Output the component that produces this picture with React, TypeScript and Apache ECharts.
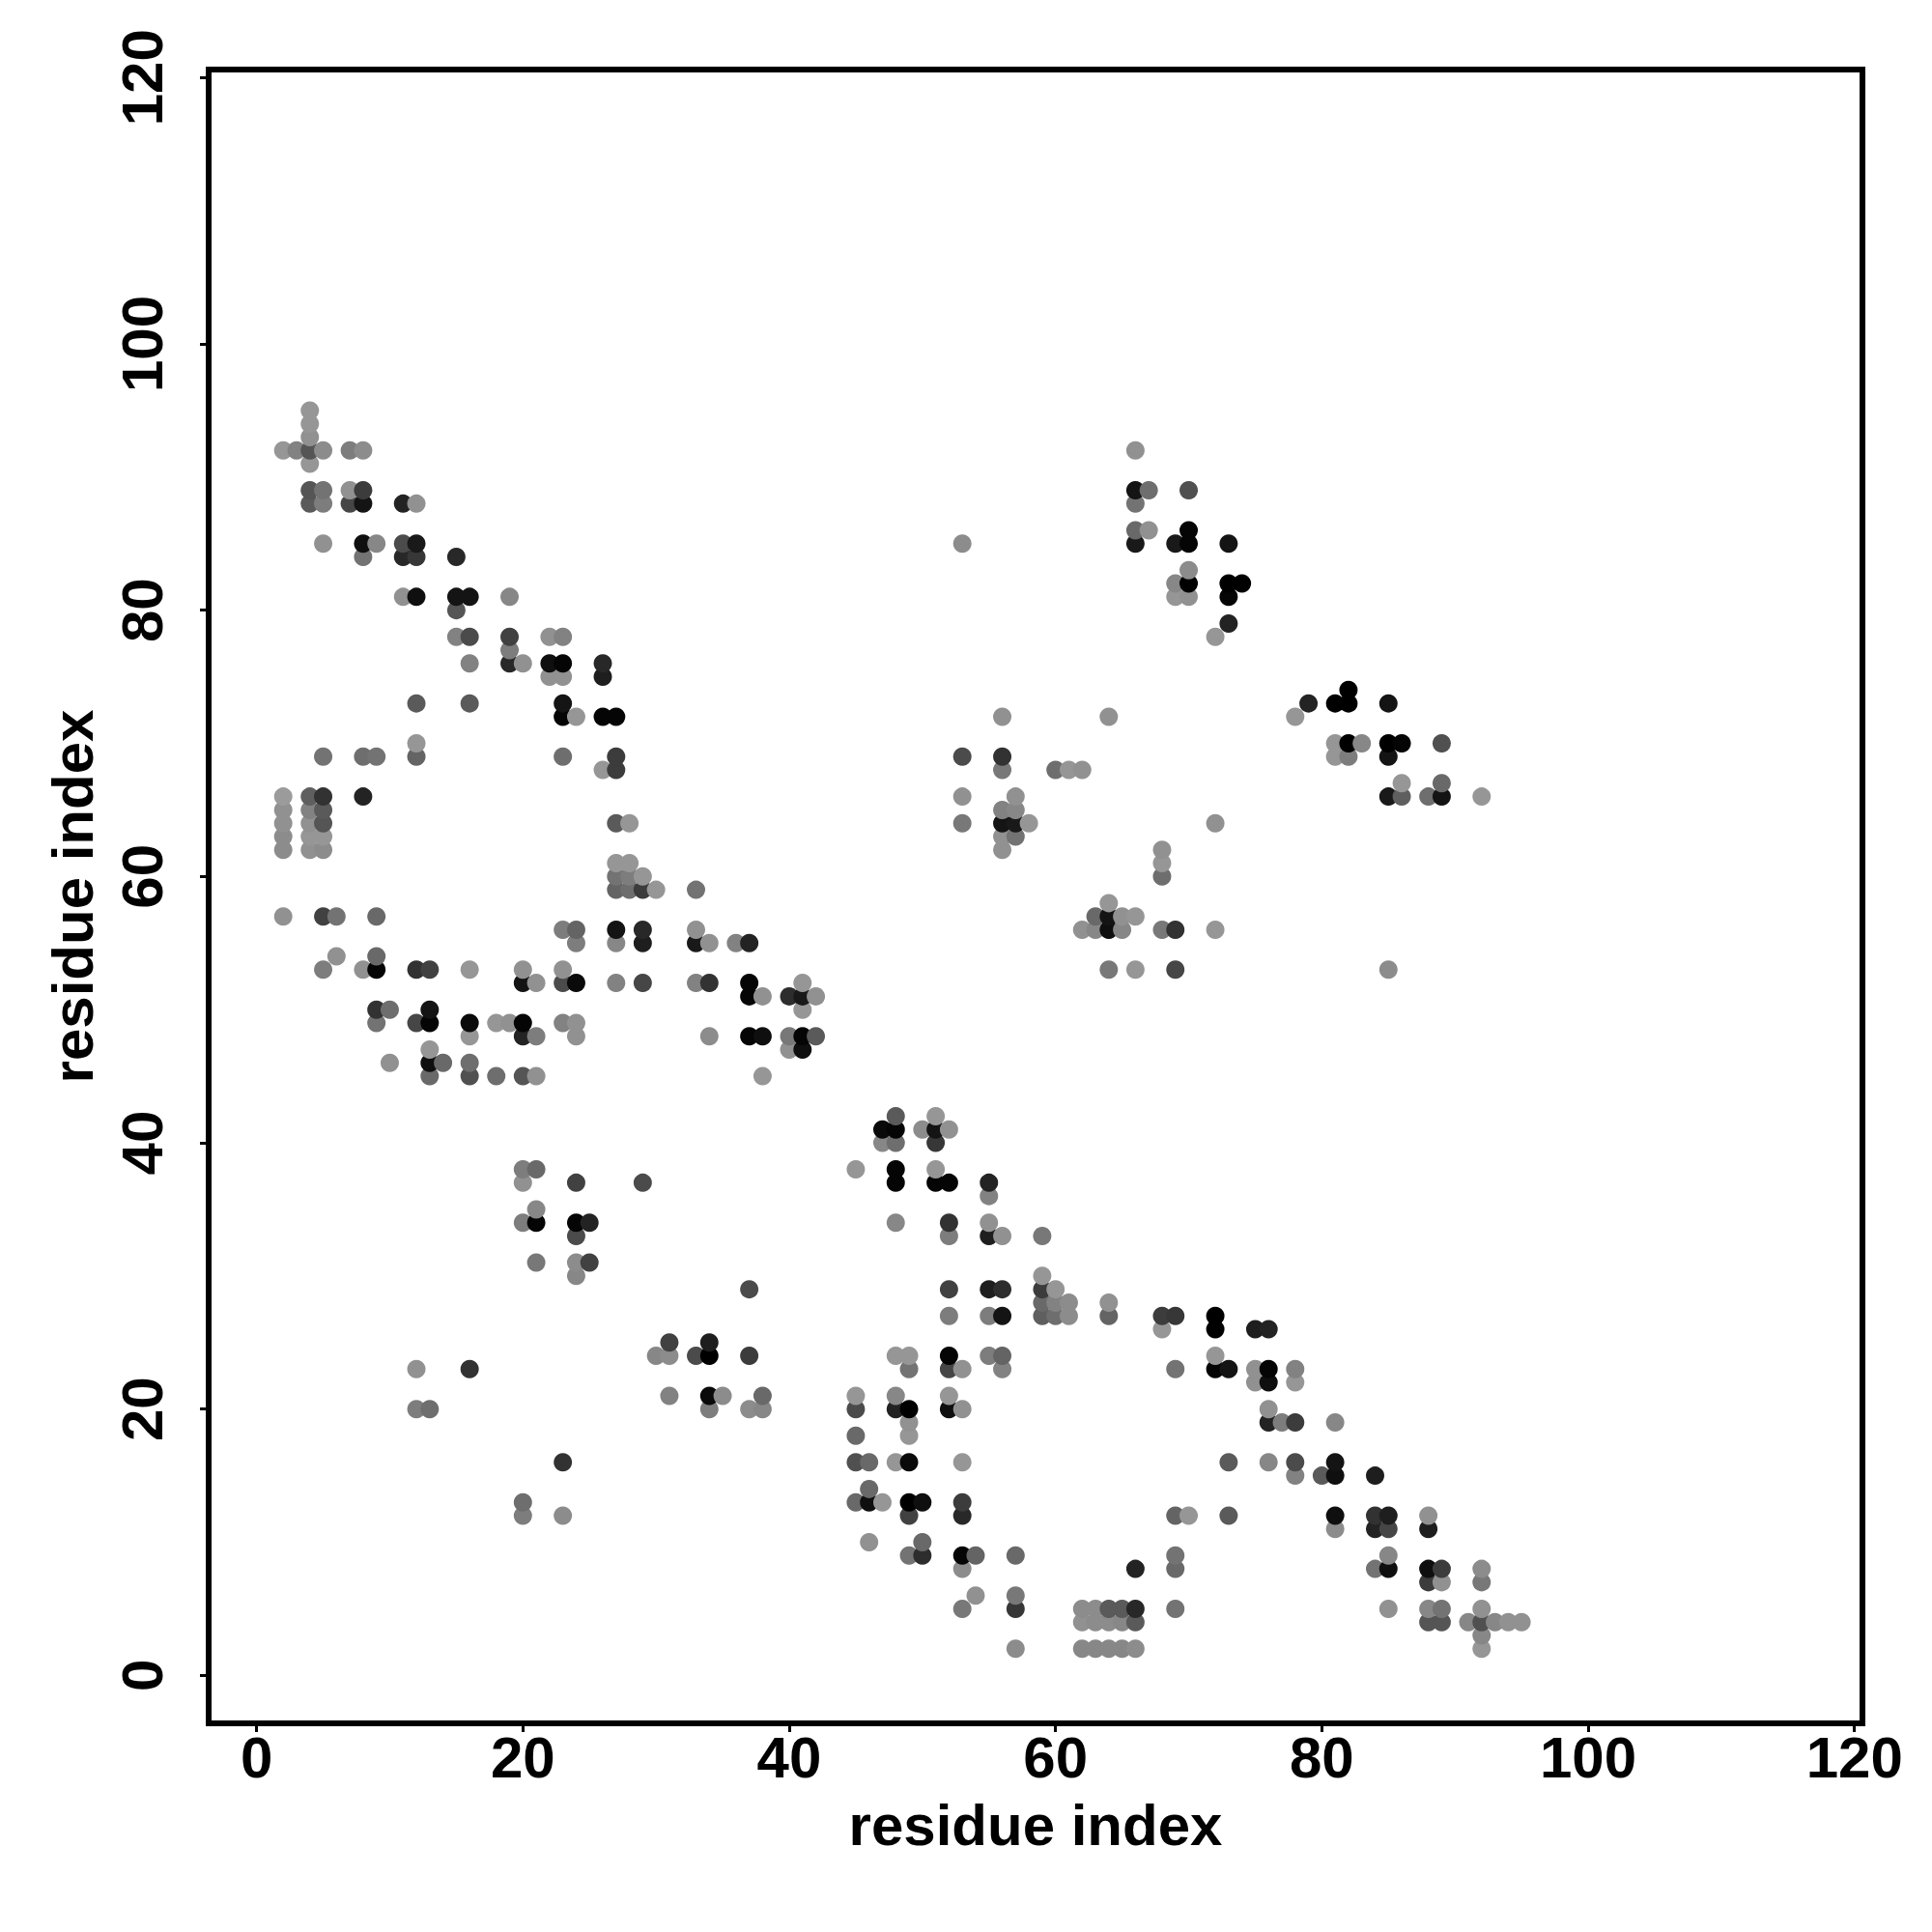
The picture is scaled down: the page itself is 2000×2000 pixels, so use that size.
import React, { useEffect, useRef } from "react";
import * as echarts from "echarts";

// Each contact: [residue x, residue y, grey level 0-255]
const rows95to70 = [
  [4,95,150],[4,94,150],[4,93,145],
  [2,92,150],[3,92,130],[4,92,85],[5,92,140],[7,92,125],[8,92,140],[66,92,145],
  [4,91,150],
  [4,89,85],[5,89,115],[7,89,145],[8,89,60],[66,89,20],[67,89,110],[70,89,80],
  [4,88,90],[5,88,125],[7,88,70],[8,88,20],[11,88,35],[12,88,145],[66,88,115],
  [66,86,105],[67,86,145],[70,86,5],
  [5,85,145],[8,85,15],[9,85,135],[11,85,75],[12,85,25],[53,85,140],[66,85,25],[69,85,25],[70,85,5],[73,85,20],
  [8,84,115],[11,84,40],[12,84,55],[15,84,40],
  [70,83,140],
  [69,82,135],[70,82,0],[73,82,0],[74,82,0],
  [11,81,145],[12,81,15],[15,81,20],[16,81,20],[19,81,135],[69,81,150],[70,81,145],[73,81,5],
  [15,80,85],
  [73,79,35],
  [15,78,130],[16,78,75],[19,78,65],[22,78,145],[23,78,130],[72,78,150],
  [19,77,125],
  [16,76,130],[19,76,40],[20,76,145],[22,76,15],[23,76,5],[26,76,40],
  [22,75,145],[23,75,145],[26,75,30],
  [82,74,0],
  [12,73,90],[16,73,90],[23,73,20],[79,73,35],[81,73,0],[82,73,0],[85,73,20],
  [23,72,5],[24,72,150],[26,72,5],[27,72,5],[56,72,145],[64,72,145],[78,72,150],
  [12,70,150],[81,70,150],[82,70,0],[83,70,135],[85,70,0],[86,70,5],[89,70,80],
];

const rows69to45 = [
  [5,69,115],[8,69,110],[9,69,115],[12,69,100],[23,69,110],[27,69,60],[53,69,75],[56,69,50],[81,69,150],[82,69,125],[85,69,20],
  [26,68,150],[27,68,60],[56,68,120],[60,68,110],[61,68,150],[62,68,145],
  [86,67,150],[89,67,105],
  [2,66,155],[4,66,95],[5,66,50],[8,66,35],[53,66,145],[57,66,145],[85,66,25],[86,66,95],[88,66,110],[89,66,20],[92,66,150],
  [2,65,145],[4,65,130],[5,65,90],[56,65,130],[57,65,135],
  [2,64,145],[4,64,145],[5,64,85],[27,64,90],[28,64,150],[53,64,120],[56,64,20],[57,64,25],[58,64,150],[72,64,145],
  [2,63,140],[4,63,150],[5,63,150],[56,63,145],[57,63,115],
  [2,62,140],[4,62,145],[5,62,140],[56,62,145],[68,62,145],
  [27,61,150],[28,61,150],[68,61,150],
  [27,60,115],[28,60,125],[29,60,150],[68,60,110],
  [27,59,100],[28,59,110],[29,59,60],[30,59,150],[33,59,115],
  [64,58,150],
  [2,57,145],[5,57,65],[6,57,115],[9,57,105],[63,57,105],[64,57,20],[65,57,145],[66,57,150],
  [23,56,125],[24,56,100],[27,56,20],[29,56,40],[33,56,145],[62,56,145],[63,56,135],[64,56,15],[65,56,135],[68,56,120],[69,56,50],[72,56,150],
  [24,55,125],[27,55,135],[29,55,30],[33,55,25],[34,55,145],[36,55,130],[37,55,35],
  [6,54,145],[9,54,105],
  [5,53,125],[8,53,145],[9,53,5],[12,53,50],[13,53,65],[16,53,150],[20,53,145],[23,53,145],[64,53,120],[66,53,150],[69,53,70],[85,53,140],
  [20,52,20],[21,52,145],[23,52,75],[24,52,10],[27,52,130],[29,52,70],[33,52,130],[34,52,50],[37,52,5],[41,52,150],
  [37,51,5],[38,51,145],[40,51,45],[41,51,25],[42,51,145],
  [9,50,50],[10,50,110],[13,50,20],[41,50,150],
  [9,49,115],[12,49,70],[13,49,5],[16,49,10],[18,49,150],[19,49,145],[20,49,5],[23,49,130],[24,49,145],
  [16,48,150],[20,48,35],[21,48,125],[24,48,145],[34,48,140],[37,48,5],[38,48,15],[40,48,120],[41,48,5],[42,48,90],
  [13,47,150],[40,47,145],[41,47,15],
  [10,46,145],[13,46,15],[14,46,105],[16,46,110],
  [13,45,105],[16,45,80],[18,45,110],[20,45,85],[21,45,145],[38,45,150],
];

const rows42to21 = [
  [48,42,90],[51,42,150],
  [47,41,10],[48,41,5],[50,41,140],[51,41,20],[52,41,145],
  [47,40,135],[48,40,110],[51,40,55],
  [20,38,125],[21,38,105],[45,38,150],[48,38,5],[51,38,150],
  [20,37,145],[24,37,65],[29,37,75],[48,37,5],[51,37,5],[52,37,5],[55,37,35],
  [55,36,130],
  [21,35,135],
  [20,34,125],[21,34,5],[24,34,5],[25,34,35],[48,34,135],[52,34,50],[55,34,145],
  [24,33,75],[52,33,125],[55,33,30],[56,33,145],[59,33,120],
  [21,31,120],[24,31,140],[25,31,65],
  [24,30,135],[59,30,150],
  [37,29,75],[52,29,65],[55,29,30],[56,29,45],[59,29,60],[60,29,150],
  [59,28,105],[60,28,130],[61,28,140],[64,28,145],
  [52,27,125],[55,27,125],[56,27,20],[59,27,95],[60,27,110],[61,27,140],[64,27,100],[68,27,60],[69,27,55],[72,27,0],
  [68,26,150],[72,26,0],[75,26,30],[76,26,35],
  [31,25,65],[34,25,30],
  [30,24,135],[31,24,140],[33,24,75],[34,24,0],[37,24,60],[48,24,150],[49,24,150],[52,24,5],[55,24,125],[56,24,100],[72,24,150],
  [12,23,145],[16,23,50],[49,23,115],[52,23,70],[53,23,145],[56,23,130],[69,23,115],[72,23,5],[73,23,20],[75,23,145],[76,23,5],[78,23,130],
  [75,22,145],[76,22,15],[78,22,150],
  [31,21,130],[34,21,10],[35,21,140],[38,21,105],[45,21,150],[48,21,135],[52,21,150],
];

const rows20to2 = [
  [12,20,125],[13,20,110],[34,20,125],[37,20,140],[38,20,135],[45,20,75],[48,20,35],[49,20,0],[52,20,15],[53,20,145],[76,20,145],
  [49,19,145],[76,19,35],[77,19,125],[78,19,60],[81,19,135],
  [45,18,105],[49,18,150],
  [23,16,50],[45,16,80],[46,16,105],[48,16,150],[49,16,10],[53,16,150],[73,16,90],[76,16,135],[78,16,75],[81,16,20],
  [78,15,130],[80,15,90],[81,15,15],[84,15,30],
  [46,14,105],
  [20,13,110],[45,13,105],[46,13,15],[47,13,150],[49,13,0],[50,13,15],[53,13,60],
  [20,12,125],[23,12,140],[49,12,65],[53,12,40],[69,12,100],[70,12,150],[73,12,90],[81,12,15],[84,12,50],[85,12,30],[88,12,145],
  [81,11,140],[84,11,35],[85,11,70],[88,11,30],
  [46,10,145],[50,10,105],
  [49,9,115],[50,9,45],[53,9,5],[54,9,100],[57,9,105],[69,9,115],[85,9,135],
  [53,8,140],[66,8,35],[69,8,105],[84,8,115],[85,8,15],[88,8,15],[89,8,60],[92,8,140],
  [88,7,60],[89,7,145],[92,7,120],
  [54,6,145],[57,6,120],
  [53,5,120],[57,5,55],[62,5,140],[63,5,140],[64,5,90],[65,5,90],[66,5,40],[69,5,115],[85,5,145],[88,5,135],[89,5,115],[92,5,145],
  [62,4,145],[63,4,140],[64,4,140],[65,4,135],[66,4,90],[88,4,85],[89,4,85],[91,4,135],[92,4,80],[93,4,135],[94,4,145],[95,4,145],
  [92,3,135],
  [57,2,140],[62,2,135],[63,2,135],[64,2,135],[65,2,135],[66,2,140],[92,2,150],
];

const tickValues = [0, 20, 40, 60, 80, 100, 120];
const axisTitle = "residue index";

// Later residues paint over earlier ones, as in the reference.
const contacts = [...rows95to70, ...rows69to45, ...rows42to21, ...rows20to2].sort(
  (a, b) => a[0] - b[0] || a[1] - b[1]
);

const FONT = "Liberation Sans";

function axis(isX: boolean): any {
  return {
    type: "value",
    min: -3.6,
    max: 120.6,
    name: axisTitle,
    nameLocation: "middle",
    nameGap: isX ? 75 : 111,
    nameTextStyle: { fontFamily: FONT, fontWeight: "bold", fontSize: 60, color: "#000" },
    splitLine: { show: false },
    axisLine: { show: false, onZero: false },
    axisTick: {
      show: true,
      inside: false,
      length: 9,
      lineStyle: { color: "#000", width: 3 },
      customValues: tickValues,
    },
    axisLabel: {
      show: true,
      fontFamily: FONT,
      fontWeight: "bold",
      fontSize: 60,
      color: "#000",
      margin: isX ? 5 : 39,
      rotate: isX ? 0 : 90,
      hideOverlap: false,
      customValues: tickValues,
    },
  };
}

export default function App() {
  const ref = useRef<HTMLDivElement>(null);
  useEffect(() => {
    const chart = echarts.init(ref.current!, null, { renderer: "svg" });
    chart.setOption({
      animation: false,
      backgroundColor: "#fff",
      grid: {
        show: true,
        left: 216,
        top: 72,
        width: 1712,
        height: 1712,
        borderColor: "#000",
        borderWidth: 6,
        backgroundColor: "transparent",
      },
      xAxis: axis(true),
      yAxis: axis(false),
      series: [
        {
          type: "scatter",
          symbol: "circle",
          symbolSize: 19,
          clip: false,
          data: contacts,
          itemStyle: {
            opacity: 1,
            color: (p: any) => {
              const g = p.value[2];
              return `rgb(${g},${g},${g})`;
            },
          },
        },
      ],
    });
    return () => chart.dispose();
  }, []);
  return (
    <div
      ref={ref}
      style={{ position: "absolute", left: 0, top: 0, width: 2000, height: 2000 }}
    />
  );
}
